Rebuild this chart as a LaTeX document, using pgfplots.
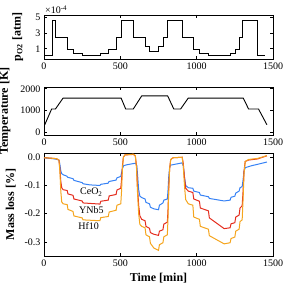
\documentclass[border=0pt]{standalone}
\usepackage{fontspec}
\setmainfont{Liberation Serif}
\usepackage{pgfplots}
\pgfplotsset{compat=1.18}
\definecolor{cblue}{RGB}{55,130,245}
\definecolor{cred}{RGB}{228,45,30}
\definecolor{corange}{RGB}{245,165,30}
\begin{document}
\begin{tikzpicture}
\pgfplotsset{every axis/.append style={
  scale only axis, width=229pt, xmin=0, xmax=1500, xtick={0,500,1000,1500},
  tick align=inside, tick style={black, line width=0.6pt}, major tick length=3pt,
  axis line style={line width=0.8pt},
  ticklabel style={font=\fontsize{10}{12}\selectfont},
  /pgf/number format/assume math mode=true,
  /pgf/number format/1000 sep={},
  label style={font=\bfseries\fontsize{12}{14}\selectfont},
  anchor=south west, clip=false}}
% top panel
\begin{axis}[at={(44pt,232pt)}, height=44pt, ymin=-0.3, ymax=5.3, ytick={1,3,5},
  ylabel={p\textsubscript{O2} [atm]},
  ylabel style={at={(axis description cs:-0.115,0.5)}, anchor=center, rotate=0}]
\addplot[const plot, black, line width=0.9pt] coordinates {
(5,0.2) (55,4.6) (76,2.4) (153,0.9) (192,0.45) (251,0.2) (368,0.45) (423,0.9) (474,2.4)
(505,4.6) (588,2.4) (664,1.3) (693,0.7) (752,1.3) (781,2.4) (811,4.6) (909,2.4) (977,0.9)
(1020,0.45) (1079,0.2) (1221,0.45) (1252,0.9) (1280,2.4) (1300,4.6) (1395,0.2) (1450,0.2)};
\node[anchor=south west, inner sep=1pt, font=\fontsize{10}{12}\selectfont] at (rel axis cs:0,1) {×10\textsuperscript{-4}};
\end{axis}
% middle panel
\begin{axis}[at={(44pt,156pt)}, height=48pt, ymin=-120, ymax=2080, ytick={0,1000,2000},
  ylabel={Temperature [K]},
  ylabel style={at={(axis description cs:-0.17,0.5)}, anchor=center}]
\addplot[black, line width=0.9pt] coordinates {
(5,350) (50,1073) (75,1073) (125,1573) (505,1573) (535,1073) (585,1073) (640,1673)
(810,1673) (850,1073) (895,1073) (945,1573) (1305,1573) (1340,1073) (1405,1073) (1460,350)};
\end{axis}
% bottom panel
\begin{axis}[at={(44pt,35pt)}, height=103pt, ymin=-0.35, ymax=0.015, ytick={-0.3,-0.2,-0.1,0},
  yticklabel style={/pgf/number format/.cd, fixed, fixed zerofill, precision=1},
  ylabel={Mass loss [\%]}, xlabel={Time [min]},
  ylabel style={at={(axis description cs:-0.145,0.5)}, anchor=center}]
\addplot[cblue, line width=1pt] coordinates {
(0,-0.002) (40,-0.004) (80,-0.007) (98,-0.010) (104,-0.025) (110,-0.048) (116,-0.058) (125,-0.062)
(150,-0.067) (155,-0.071) (190,-0.076) (196,-0.082) (250,-0.090) (256,-0.094) (300,-0.098) (366,-0.100)
(372,-0.096) (420,-0.092) (426,-0.086) (472,-0.081) (478,-0.073) (503,-0.068) (508,-0.055) (514,-0.040)
(522,-0.030) (540,-0.027) (600,-0.021) (608,-0.030) (614,-0.070) (620,-0.115) (628,-0.138) (640,-0.143)
(662,-0.148) (668,-0.160) (691,-0.165) (697,-0.177) (720,-0.183) (750,-0.186) (756,-0.170) (779,-0.162)
(785,-0.152) (808,-0.148) (812,-0.120) (817,-0.070) (823,-0.035) (830,-0.028) (905,-0.020) (912,-0.030)
(920,-0.070) (928,-0.100) (945,-0.108) (975,-0.110) (981,-0.120) (1018,-0.125) (1024,-0.134) (1077,-0.140)
(1083,-0.146) (1180,-0.155) (1219,-0.152) (1225,-0.142) (1250,-0.138) (1256,-0.127) (1278,-0.120)
(1284,-0.108) (1298,-0.104) (1304,-0.080) (1310,-0.050) (1318,-0.037) (1360,-0.030) (1400,-0.025) (1460,-0.017)};
\addplot[cred, line width=1pt] coordinates {
(0,-0.002) (40,-0.003) (80,-0.005) (98,-0.010) (104,-0.040) (110,-0.085) (116,-0.108) (125,-0.115)
(152,-0.118) (157,-0.130) (190,-0.135) (196,-0.148) (250,-0.155) (256,-0.162) (366,-0.166) (372,-0.156)
(421,-0.152) (427,-0.137) (472,-0.132) (478,-0.116) (503,-0.110) (508,-0.080) (514,-0.030) (520,0.000)
(530,0.008) (585,0.010) (598,0.005) (606,-0.030) (612,-0.100) (620,-0.170) (628,-0.208) (640,-0.220)
(662,-0.225) (668,-0.245) (691,-0.252) (697,-0.267) (720,-0.273) (750,-0.277) (756,-0.262) (779,-0.257)
(785,-0.237) (808,-0.230) (812,-0.190) (817,-0.110) (823,-0.040) (830,-0.008) (845,-0.002) (905,0.000)
(912,-0.020) (920,-0.070) (928,-0.110) (945,-0.120) (975,-0.125) (981,-0.148) (1018,-0.156) (1024,-0.180)
(1077,-0.190) (1083,-0.215) (1180,-0.253) (1219,-0.250) (1225,-0.236) (1250,-0.232) (1256,-0.212)
(1278,-0.205) (1284,-0.180) (1298,-0.172) (1304,-0.120) (1310,-0.050) (1318,-0.015) (1340,-0.010)
(1400,-0.006) (1420,-0.002) (1460,0.005)};
\addplot[corange, line width=1pt] coordinates {
(0,-0.002) (40,-0.003) (80,-0.005) (98,-0.010) (104,-0.050) (110,-0.120) (116,-0.158) (125,-0.165)
(152,-0.168) (157,-0.185) (190,-0.192) (196,-0.208) (250,-0.215) (256,-0.222) (366,-0.225) (372,-0.214)
(421,-0.210) (427,-0.194) (472,-0.188) (478,-0.170) (503,-0.165) (508,-0.120) (514,-0.040) (520,0.000)
(530,0.008) (585,0.011) (598,0.006) (606,-0.040) (612,-0.120) (620,-0.200) (628,-0.238) (640,-0.245)
(662,-0.250) (668,-0.275) (691,-0.282) (697,-0.305) (720,-0.322) (750,-0.330) (756,-0.310) (779,-0.303)
(785,-0.282) (808,-0.275) (812,-0.220) (817,-0.120) (823,-0.040) (830,-0.008) (845,-0.002) (905,0.000)
(912,-0.030) (920,-0.100) (928,-0.150) (945,-0.165) (975,-0.170) (981,-0.212) (1018,-0.220) (1024,-0.245)
(1077,-0.255) (1083,-0.278) (1180,-0.307) (1219,-0.303) (1225,-0.288) (1250,-0.283) (1256,-0.262)
(1278,-0.255) (1284,-0.228) (1298,-0.222) (1304,-0.150) (1310,-0.060) (1318,-0.015) (1340,-0.008)
(1400,-0.004) (1420,-0.001) (1460,0.006)};
\node[font=\fontsize{10}{12}\selectfont] at (axis cs:310,-0.124) {CeO\textsubscript{2}};
\node[font=\fontsize{10}{12}\selectfont] at (axis cs:310,-0.188) {YNb5};
\node[font=\fontsize{10}{12}\selectfont] at (axis cs:292,-0.245) {Hf10};
\end{axis}
\pgfresetboundingbox
\useasboundingbox (0,0) rectangle (283pt,291pt);
\end{tikzpicture}
\end{document}
